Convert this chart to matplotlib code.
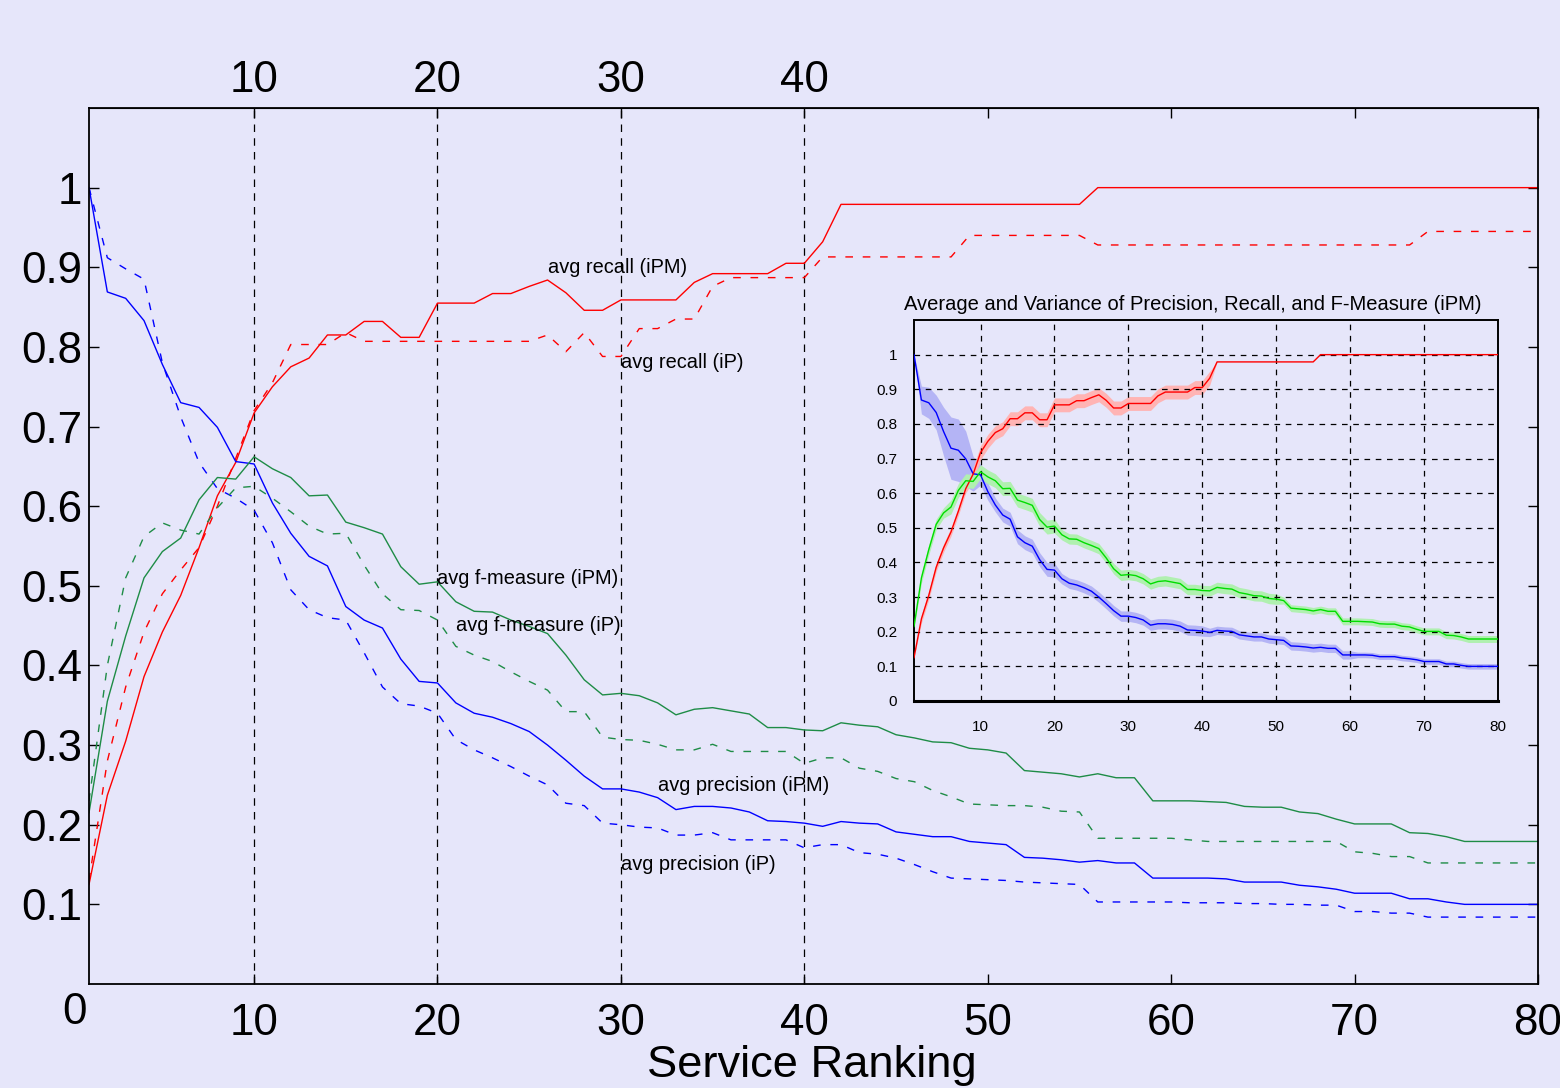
import matplotlib
matplotlib.use("Agg")
import matplotlib.pyplot as plt
import numpy as np

# ===== data =====
ranks = list(range(1, 81))

recall_ipm = [0.125, 0.237, 0.305, 0.386, 0.442, 0.488, 0.548, 0.613, 0.655, 0.717,
              0.750, 0.775, 0.786, 0.815, 0.815, 0.832, 0.832, 0.812, 0.812, 0.855,
              0.855, 0.855, 0.867, 0.867, 0.876, 0.884, 0.868, 0.846, 0.846, 0.859,
              0.859, 0.859, 0.859, 0.881, 0.892, 0.892, 0.892, 0.892, 0.905, 0.905,
              0.932] + [0.979] * 14 + [1.0] * 25

recall_ip = [0.130, 0.280, 0.373, 0.442, 0.490, 0.520, 0.548, 0.600, 0.660, 0.720,
             0.755, 0.803, 0.803, 0.803, 0.818] + [0.807] * 10 + \
            [0.815, 0.794, 0.818, 0.788, 0.788, 0.823, 0.823, 0.835, 0.835, 0.876,
             0.887, 0.887, 0.887, 0.887, 0.887] + [0.913] * 8 + [0.940] * 7 + \
            [0.928] * 18 + [0.945] * 7

precision_ipm = [1.000, 0.869, 0.861, 0.833, 0.778, 0.730, 0.724, 0.699, 0.656, 0.653,
                 0.604, 0.566, 0.537, 0.525, 0.474, 0.457, 0.447, 0.408, 0.380, 0.378,
                 0.353, 0.340, 0.335, 0.327, 0.317, 0.300, 0.281, 0.261, 0.245, 0.245,
                 0.241, 0.234, 0.219, 0.223, 0.223, 0.221, 0.216, 0.205, 0.204, 0.202,
                 0.198, 0.204, 0.202, 0.201, 0.191, 0.188, 0.185, 0.185, 0.179, 0.177,
                 0.175, 0.159, 0.158, 0.156, 0.153, 0.155, 0.152, 0.152, 0.133, 0.133,
                 0.133, 0.133, 0.132, 0.128, 0.128, 0.128, 0.124, 0.122, 0.119, 0.114,
                 0.114, 0.114, 0.107, 0.107, 0.103, 0.100, 0.100, 0.100, 0.100, 0.100]

precision_ip = [1.000, 0.912, 0.898, 0.885, 0.780, 0.712, 0.655, 0.622, 0.610, 0.595,
                0.554, 0.495, 0.470, 0.460, 0.457, 0.416, 0.373, 0.352, 0.349, 0.340,
                0.307, 0.294, 0.284, 0.273, 0.261, 0.250, 0.227, 0.224, 0.202, 0.200,
                0.197, 0.196, 0.187, 0.187, 0.190, 0.181, 0.181, 0.181, 0.181, 0.171,
                0.175, 0.175, 0.165, 0.163, 0.158, 0.150, 0.141, 0.133, 0.132, 0.131,
                0.130, 0.128, 0.127, 0.126, 0.125, 0.103, 0.103, 0.103, 0.103, 0.103,
                0.102, 0.102, 0.102, 0.101, 0.101, 0.100, 0.100, 0.099, 0.099, 0.091,
                0.091, 0.089, 0.089, 0.084, 0.084, 0.084, 0.084, 0.084, 0.084, 0.084]

fmeasure_ipm = [0.215, 0.355, 0.437, 0.510, 0.543, 0.560, 0.608, 0.636, 0.634, 0.662,
                0.647, 0.636, 0.613, 0.614, 0.580, 0.573, 0.565, 0.524, 0.502, 0.505,
                0.480, 0.468, 0.467, 0.457, 0.449, 0.440, 0.413, 0.382, 0.363, 0.365,
                0.362, 0.353, 0.338, 0.345, 0.347, 0.343, 0.339, 0.322, 0.322, 0.319,
                0.318, 0.328, 0.325, 0.323, 0.313, 0.309, 0.304, 0.303, 0.296, 0.294,
                0.290, 0.268, 0.266, 0.264, 0.260, 0.264, 0.259, 0.259, 0.230, 0.230,
                0.230, 0.229, 0.228, 0.223, 0.222, 0.222, 0.216, 0.214, 0.207, 0.201,
                0.201, 0.201, 0.190, 0.189, 0.185, 0.179, 0.179, 0.179, 0.179, 0.179]

fmeasure_ip = [0.230, 0.400, 0.510, 0.562, 0.579, 0.570, 0.565, 0.598, 0.623, 0.625,
               0.610, 0.593, 0.575, 0.565, 0.566, 0.526, 0.490, 0.470, 0.469, 0.457,
               0.424, 0.413, 0.405, 0.392, 0.380, 0.369, 0.342, 0.342, 0.310, 0.307,
               0.306, 0.301, 0.294, 0.294, 0.301, 0.292, 0.292, 0.292, 0.292, 0.277,
               0.284, 0.284, 0.271, 0.267, 0.258, 0.254, 0.243, 0.235, 0.226, 0.225,
               0.224, 0.224, 0.222, 0.217, 0.216, 0.183, 0.183, 0.183, 0.183, 0.183,
               0.181, 0.179, 0.179, 0.179, 0.179, 0.179, 0.179, 0.179, 0.179, 0.166,
               0.164, 0.160, 0.160, 0.152, 0.152, 0.152, 0.152, 0.152, 0.152, 0.152]

# half-width of the variance bands in the inset (iPM)
precision_var = [0.0, 0.040, 0.045, 0.050, 0.070, 0.090, 0.090, 0.080, 0.050, 0.030,
                 0.025] + [0.020] * 9 + [0.015] * 20 + [0.012] * 20 + [0.008] * 20
recall_var = [0.0] + [0.012] * 7 + [0.020] * 33 + [0.0] * 39
fmeasure_var = [0.005] + [0.015] * 4 + [0.020] * 15 + [0.015] * 30 + [0.010] * 30

labels = [
    ("avg recall (iPM)", 26.0, 0.8995),
    ("avg recall (iP)", 30.0, 0.780),
    ("avg f-measure (iPM)", 19.96, 0.509),
    ("avg f-measure (iP)", 21.0, 0.450),
    ("avg precision (iPM)", 32.0, 0.249),
    ("avg precision (iP)", 30.0, 0.1495),
]

bottom_ticks = [10, 20, 30, 40, 50, 60, 70, 80]
top_ticks = [10, 20, 30, 40]
y_ticks = [0.1, 0.2, 0.3, 0.4, 0.5, 0.6, 0.7, 0.8, 0.9, 1.0]
y_ticklabels = ["0.1", "0.2", "0.3", "0.4", "0.5", "0.6", "0.7", "0.8", "0.9", "1"]
inset_yticks = [0, 0.1, 0.2, 0.3, 0.4, 0.5, 0.6, 0.7, 0.8, 0.9, 1.0]
inset_yticklabels = ["0", "0.1", "0.2", "0.3", "0.4", "0.5", "0.6", "0.7", "0.8", "0.9", "1"]

# ===== style =====
plt.rcParams["font.family"] = ["Liberation Sans", "DejaVu Sans"]
BG = "#e6e6fa"
RED = "#ff0000"
BLUE = "#0000ff"
GREEN = "#1e8c46"
LIME = "#00dd00"
dash = (0, (5.5, 7))

fig = plt.figure(figsize=(15.6, 10.88), dpi=100, facecolor=BG)

# ===== main axes =====
ax = fig.add_axes([89 / 1560, 1 - 984 / 1088, 1449 / 1560, 876 / 1088], facecolor=BG)
ax.set_xlim(1, 80)
ax.set_ylim(0, 1.1)

for xv in top_ticks:
    ax.axvline(xv, color="black", lw=0.9, linestyle=(0, (6, 5)), zorder=1)

ax.plot(ranks, recall_ipm, color=RED, lw=1.0)
ax.plot(ranks, recall_ip, color=RED, lw=1.0, linestyle=dash)
ax.plot(ranks, precision_ipm, color=BLUE, lw=1.0)
ax.plot(ranks, precision_ip, color=BLUE, lw=1.0, linestyle=dash)
ax.plot(ranks, fmeasure_ipm, color=GREEN, lw=1.0)
ax.plot(ranks, fmeasure_ip, color=GREEN, lw=1.0, linestyle=dash)

for txt, xv, yv in labels:
    ax.text(xv, yv, txt, fontsize=14.4, ha="left", va="center", color="black")

ax.set_xticks(bottom_ticks)
ax.set_yticks(y_ticks)
ax.set_yticklabels(y_ticklabels)
ax.tick_params(axis="x", direction="in", length=7, width=1, top=True,
               labelsize=31.6, pad=14)
ax.tick_params(axis="y", direction="in", length=7, width=1, right=True,
               labelsize=31.6, pad=5)
for sp in ax.spines.values():
    sp.set_linewidth(1.3)

secax = ax.secondary_xaxis("top")
secax.set_xticks(top_ticks)
secax.tick_params(length=0, labelsize=31.6, pad=5)

fig.text(75 / 1560, 1 - 1012 / 1088, "0", fontsize=31.6, ha="center", va="center")
fig.text(812 / 1560, 1 - 1077 / 1088, "Service Ranking", fontsize=32.6,
         ha="center", va="baseline")

# ===== inset =====
ins = fig.add_axes([914 / 1560, 1 - 701 / 1088, 584 / 1560, 381 / 1088], facecolor=BG)
ins.set_xlim(1, 80)
ins.set_ylim(0, 1.1)

x = np.array(ranks)
for vals, var, fc in [(precision_ipm, precision_var, "#b4b4f5"),
                      (recall_ipm, recall_var, "#ffb4b4"),
                      (fmeasure_ipm, fmeasure_var, "#b0f0b0")]:
    v = np.array(vals)
    w = np.array(var)
    ins.fill_between(x, v - w, v + w, color=fc, lw=0, zorder=2)
for vals, lc in [(precision_ipm, BLUE), (recall_ipm, RED), (fmeasure_ipm, LIME)]:
    ins.plot(ranks, vals, color=lc, lw=1.0, zorder=3)

ins.set_xticks(bottom_ticks)
ins.set_yticks(inset_yticks)
ins.set_yticklabels(inset_yticklabels)
ins.grid(True, color="black", linestyle=(0, (4.5, 4.5)), lw=0.9)
ins.set_axisbelow(False)
ins.tick_params(axis="both", length=0, labelsize=11)
ins.tick_params(axis="x", pad=14)
ins.tick_params(axis="y", pad=12)
for sp in ins.spines.values():
    sp.set_linewidth(1.4)
ins.spines["bottom"].set_linewidth(2.2)
ins.set_title("Average and Variance of Precision, Recall, and F-Measure (iPM)",
              fontsize=14.5, pad=7, x=0.478)

fig.savefig("out.png", dpi=100, facecolor=BG)
